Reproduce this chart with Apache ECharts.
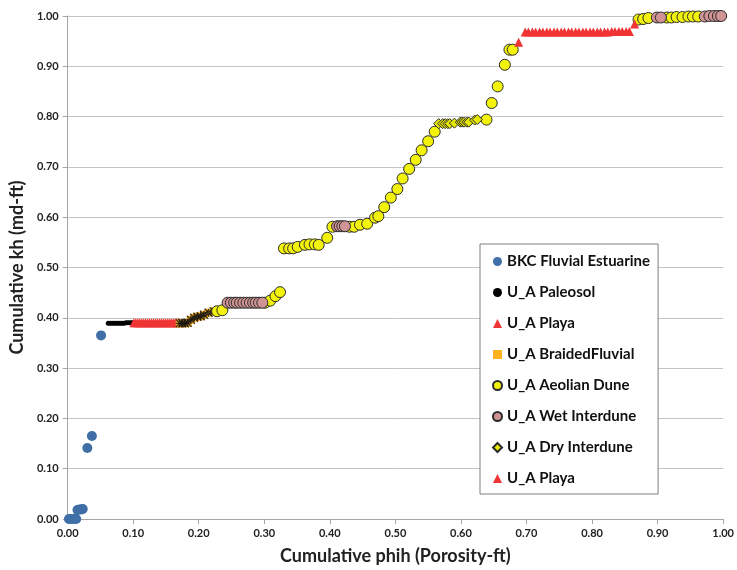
<!DOCTYPE html>
<html lang="en">
<head>
  <meta charset="UTF-8">
  <title>Cumulative kh vs phih</title>
  <style>
    html, body { margin: 0; padding: 0; background: #fff; }
    #main { width: 737px; height: 570px; }
  </style>
</head>
<body>
  <div id="main"></div>
  <script src="https://cdn.jsdelivr.net/npm/echarts@6/dist/echarts.min.js"></script>
  <script>
    // tick labels
    var xTicks = ['0.00', '0.10', '0.20', '0.30', '0.40', '0.50', '0.60', '0.70', '0.80', '0.90', '1.00'];
    var yTicks = ['0.00', '0.10', '0.20', '0.30', '0.40', '0.50', '0.60', '0.70', '0.80', '0.90', '1.00'];

    // [cumulative phih, cumulative kh] per facies
    var bkcFluvial = [[0.002, 0], [0.006, 0], [0.010, 0], [0.013, 0], [0.015, 0.018], [0.018, 0.019],
      [0.021, 0.019], [0.023, 0.020], [0.030, 0.141], [0.037, 0.165], [0.051, 0.365]];

    var paleosol = [[0.062, 0.389], [0.065, 0.389], [0.068, 0.389], [0.071, 0.389], [0.074, 0.389],
      [0.077, 0.389], [0.080, 0.389], [0.083, 0.389], [0.086, 0.389], [0.089, 0.390], [0.092, 0.390],
      [0.095, 0.390], [0.098, 0.390], [0.100, 0.390]];

    var playa1 = [[0.101, 0.390], [0.104, 0.390], [0.107, 0.390], [0.110, 0.390], [0.113, 0.390],
      [0.116, 0.390], [0.119, 0.390], [0.122, 0.390], [0.125, 0.390], [0.128, 0.390], [0.131, 0.390],
      [0.134, 0.390], [0.137, 0.390], [0.140, 0.390], [0.143, 0.390], [0.146, 0.390], [0.149, 0.390],
      [0.152, 0.390], [0.155, 0.390], [0.158, 0.390], [0.161, 0.390], [0.164, 0.390], [0.167, 0.390],
      [0.169, 0.391]];

    var braided = [[0.171, 0.389], [0.175, 0.389], [0.179, 0.389], [0.183, 0.390], [0.188, 0.396],
      [0.193, 0.400], [0.198, 0.402], [0.203, 0.403], [0.208, 0.406], [0.215, 0.410], [0.223, 0.413]];

    var aeolian = [[0.228, 0.413], [0.236, 0.415],
      [0.301, 0.430], [0.309, 0.434], [0.317, 0.443], [0.324, 0.451],
      [0.330, 0.538], [0.338, 0.538], [0.344, 0.538], [0.351, 0.541], [0.362, 0.545], [0.369, 0.546],
      [0.377, 0.546], [0.383, 0.545], [0.396, 0.559], [0.404, 0.581],
      [0.430, 0.581], [0.437, 0.581], [0.446, 0.585], [0.457, 0.587], [0.469, 0.599], [0.474, 0.602],
      [0.483, 0.620], [0.493, 0.639], [0.503, 0.656], [0.511, 0.677], [0.521, 0.696], [0.531, 0.714],
      [0.540, 0.733], [0.550, 0.751], [0.560, 0.770],
      [0.639, 0.794], [0.647, 0.827], [0.656, 0.860], [0.667, 0.903], [0.674, 0.933], [0.679, 0.933],
      [0.871, 0.993], [0.878, 0.994], [0.886, 0.996], [0.914, 0.997], [0.921, 0.997], [0.929, 0.998],
      [0.938, 0.998], [0.947, 0.999], [0.954, 0.999], [0.962, 0.999]];

    var wetInterdune = [[0.244, 0.430], [0.249, 0.430], [0.254, 0.430], [0.258, 0.430], [0.263, 0.430],
      [0.268, 0.430], [0.273, 0.430], [0.278, 0.430], [0.283, 0.430], [0.287, 0.430], [0.292, 0.430],
      [0.297, 0.430],
      [0.411, 0.582], [0.415, 0.582], [0.419, 0.582], [0.423, 0.582],
      [0.899, 0.997], [0.905, 0.997], [0.972, 0.999], [0.979, 1.000], [0.986, 1.000], [0.992, 1.000],
      [0.997, 1.000]];

    var dryInterdune = [[0.566, 0.786], [0.572, 0.786], [0.576, 0.786], [0.580, 0.786], [0.583, 0.786],
      [0.590, 0.787], [0.599, 0.789], [0.602, 0.789], [0.605, 0.789], [0.609, 0.789], [0.612, 0.789],
      [0.621, 0.793], [0.625, 0.794]];

    var playa2 = [[0.688, 0.948], [0.698, 0.968], [0.703, 0.968], [0.709, 0.968], [0.714, 0.968],
      [0.720, 0.968], [0.725, 0.968], [0.731, 0.968], [0.736, 0.968], [0.742, 0.968], [0.747, 0.968],
      [0.753, 0.968], [0.758, 0.968], [0.764, 0.968], [0.769, 0.968], [0.775, 0.968], [0.780, 0.968],
      [0.786, 0.968], [0.791, 0.968], [0.797, 0.968], [0.802, 0.968], [0.808, 0.968], [0.813, 0.968],
      [0.819, 0.968], [0.824, 0.968], [0.830, 0.969], [0.835, 0.969], [0.841, 0.969], [0.846, 0.969],
      [0.852, 0.969], [0.857, 0.969], [0.865, 0.984]];

    var FONT = 'Lato';
    var chart = echarts.init(document.getElementById('main'), null, { renderer: 'canvas' });

    function scatter(name, data, symbol, size, color, border, bw) {
      return {
        name: name, type: 'scatter', data: data, symbol: symbol, symbolSize: size,
        itemStyle: { color: color, borderColor: border || color, borderWidth: bw || 0, opacity: 1 },
        emphasis: { disabled: true }
      };
    }

    var asterisk = 'path://M0,0L10,10M10,0L0,10M5,0L5,10M0,5L10,5';

    var option = {
      animation: false,
      grid: { left: 66, right: 10, top: 16, bottom: 50 },
      xAxis: {
        type: 'value', min: 0, max: 1, interval: 0.1,
        name: 'Cumulative phih (Porosity-ft)', nameLocation: 'middle', nameGap: 28,
        nameTextStyle: { fontFamily: FONT, fontWeight: 'bold', fontSize: 18, color: '#222' },
        axisLine: { lineStyle: { color: '#a6a6a6' } },
        axisTick: { show: true, length: 5, lineStyle: { color: '#a6a6a6' } },
        splitLine: { show: false },
        axisLabel: {
          fontFamily: FONT, fontWeight: 'bold', fontSize: 11, color: '#222', margin: 9,
          formatter: function (v) { return xTicks[Math.round(v * 10)]; }
        }
      },
      yAxis: {
        type: 'value', min: 0, max: 1, interval: 0.1,
        name: 'Cumulative kh (md-ft)', nameLocation: 'middle', nameGap: 38,
        nameTextStyle: { fontFamily: FONT, fontWeight: 'bold', fontSize: 18, color: '#222' },
        axisLine: { show: true, lineStyle: { color: '#a6a6a6' } },
        axisTick: { show: true, length: 5, lineStyle: { color: '#a6a6a6' } },
        splitLine: { show: true, lineStyle: { color: '#c4c4c4' } },
        axisLabel: {
          fontFamily: FONT, fontWeight: 'bold', fontSize: 11, color: '#222', margin: 9,
          formatter: function (v) { return yTicks[Math.round(v * 10)]; }
        }
      },
      legend: {
        orient: 'vertical', left: 480, top: 244,
        backgroundColor: '#fff', borderColor: '#7f7f7f', borderWidth: 1,
        padding: [10, 8, 8, 12],
        itemWidth: 9, itemHeight: 9, itemGap: 16,
        textStyle: { fontFamily: FONT, fontWeight: 'bold', fontSize: 15, color: '#111' },
        data: ['BKC Fluvial Estuarine', 'U_A Paleosol', 'U_A Playa', 'U_A BraidedFluvial',
          'U_A Aeolian Dune', 'U_A Wet Interdune', 'U_A Dry Interdune', 'U_A Playa ']
      },
      series: [
        scatter('BKC Fluvial Estuarine', bkcFluvial, 'circle', 10, '#3f6fa6'),
        scatter('U_A Paleosol', paleosol, 'circle', 5, '#000'),
        scatter('U_A Playa', playa1, 'triangle', 9, '#f03333'),
        scatter('U_A BraidedFluvial', braided, 'rect', 8, '#ffb21f'),
        {
          name: 'U_A BraidedFluvial', type: 'scatter', data: braided, symbol: asterisk, symbolSize: 8,
          itemStyle: { color: 'none', borderColor: '#111', borderWidth: 1.3 },
          emphasis: { disabled: true }
        },
        scatter('U_A Aeolian Dune', aeolian, 'circle', 11, '#f2f20a', '#2b2b2b', 1),
        scatter('U_A Wet Interdune', wetInterdune, 'circle', 11, '#d09494', '#2b2b2b', 1),
        scatter('U_A Dry Interdune', dryInterdune, 'diamond', 10, '#e8e800', '#2b2b2b', 1),
        scatter('U_A Playa ', playa2, 'triangle', 9, '#f03333')
      ]
    };

    chart.setOption(option);
  </script>
</body>
</html>
